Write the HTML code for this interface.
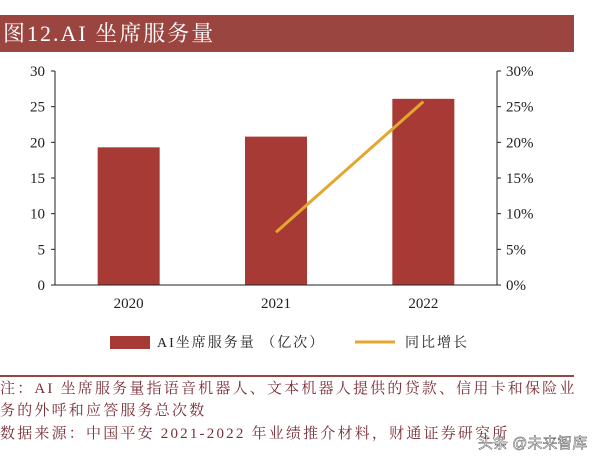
<!DOCTYPE html>
<html><head><meta charset="utf-8"><style>
body{margin:0;width:600px;height:463px;background:#fff;overflow:hidden;font-family:"Liberation Serif","Noto Serif CJK SC",serif;}
</style></head><body>
<svg width="600" height="463">
<rect x="0" y="15" width="574" height="37" fill="#9b4541"/>
<text x="3" y="41" font-size="22" letter-spacing="2" fill="#fff">图12.AI 坐席服务量</text>
<g id="plot"></g>
<rect x="110" y="336" width="40" height="13" fill="#a83a35"/>
<text x="157" y="347" font-size="14" letter-spacing="2" fill="#222">AI坐席服务量 （亿次）</text>
<line x1="355" y1="342" x2="395" y2="342" stroke="#e3a72f" stroke-width="3"/>
<text x="405" y="347" font-size="14" letter-spacing="2" fill="#222">同比增长</text>
<line x1="0" y1="376" x2="574" y2="376" stroke="#9b4541" stroke-width="2"/>
<g font-size="15" fill="#7a2e36" letter-spacing="2.2">
<text x="0" y="393">注：AI 坐席服务量指语音机器人、文本机器人提供的贷款、信用卡和保险业</text>
<text x="0" y="415">务的外呼和应答服务总次数</text>
<text x="0" y="438">数据来源：中国平安 2021-2022 年业绩推介材料，财通证券研究所</text>
</g>
<text x="478" y="448" font-size="15" fill="#fff" stroke="#333" stroke-width="0.4" font-family="Liberation Sans,Noto Sans CJK SC,sans-serif">头条 @未来智库</text>
</svg>
<script>
const categories=["2020","2021","2022"];
const barValues=[19.3,20.8,26.1];
const growthValues=[null,7.4,25.7];
const leftTicks=[0,5,10,15,20,25,30];
const rightTicks=["0%","5%","10%","15%","20%","25%","30%"];
const NS="http://www.w3.org/2000/svg";
const g=document.getElementById('plot');
const X0=55,X1=497,Y0=285,Y1=71;
const y=v=>Y0-(v/30)*(Y0-Y1);
const yr=p=>Y0-(p/30)*(Y0-Y1);
const band=(X1-X0)/categories.length;
const cx=i=>X0+band*(i+0.5);
function mk(t,a){const e=document.createElementNS(NS,t);for(const k in a)e.setAttribute(k,a[k]);g.appendChild(e);return e;}
let e;
e=mk('line',{x1:X0,y1:Y1,x2:X0,y2:Y0,stroke:'#222'});


e=mk('line',{x1:X1,y1:Y1,x2:X1,y2:Y0,stroke:'#222'});


leftTicks.forEach((t,i)=>{
 mk('line',{x1:X0-4,y1:y(t),x2:X0,y2:y(t),stroke:'#222'});
 e=mk('text',{x:X0-10,y:y(t)+5,'text-anchor':'end','font-size':15,fill:'#222'});e.textContent=t;
 
 
 mk('line',{x1:X1,y1:y(t),x2:X1+4,y2:y(t),stroke:'#222'});
 e=mk('text',{x:X1+9,y:y(t)+5,'font-size':15,fill:'#222'});e.textContent=rightTicks[i];
 
 
});
categories.forEach((c,i)=>{
 e=mk('rect',{x:cx(i)-31,y:y(barValues[i]),width:62,height:Y0-y(barValues[i]),fill:'#a83a35'});
 
 
 e=mk('text',{x:cx(i),y:308,'text-anchor':'middle','font-size':15,fill:'#222'});e.textContent=c;
 
 
});
e=mk('line',{x1:X0,y1:Y0,x2:X1,y2:Y0,stroke:'#222'});


const pts=growthValues.map((v,i)=>v==null?null:cx(i)+','+yr(v)).filter(Boolean).join(' ');
e=mk('polyline',{points:pts,fill:'none',stroke:'#e3a72f','stroke-width':3});


</script>
</body></html>
